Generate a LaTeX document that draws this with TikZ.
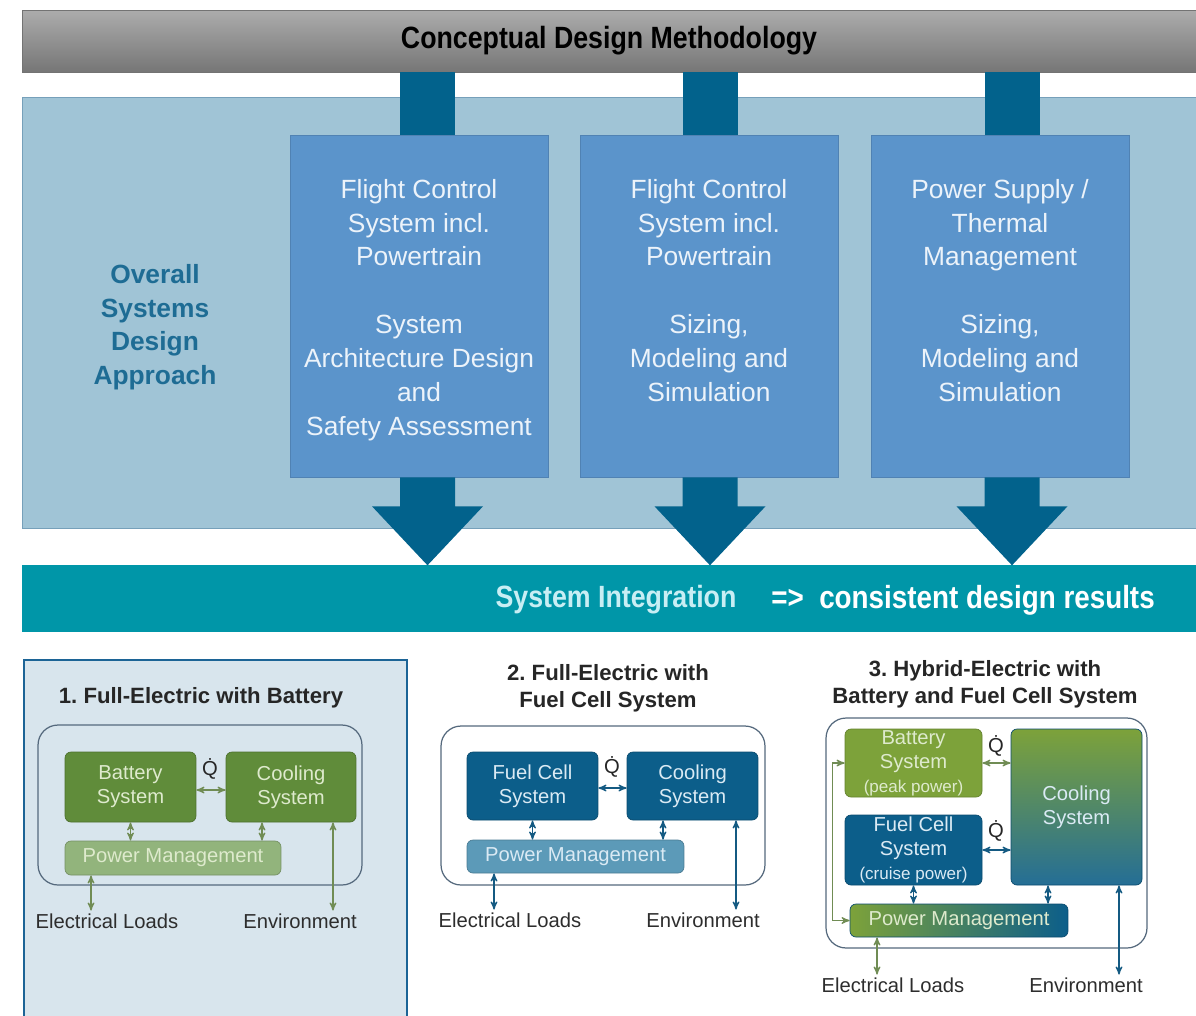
\documentclass[tikz,border=0pt]{standalone}
\usepackage{fontspec}
\setmainfont{Liberation Sans}
\newfontfamily\condsans[FakeStretch=0.87]{Liberation Sans}
\usetikzlibrary{arrows,positioning}
\frenchspacing

\definecolor{bartop}{RGB}{172,172,172}
\definecolor{barbot}{RGB}{118,118,118}
\definecolor{panelblue}{RGB}{160,196,214}
\definecolor{paneledge}{RGB}{118,160,186}
\definecolor{boxblue}{RGB}{91,148,203}
\definecolor{boxtxt}{RGB}{236,243,250}
\definecolor{linkblue}{RGB}{2,98,140}
\definecolor{teal}{RGB}{0,150,168}
\definecolor{tealtxt}{RGB}{200,238,244}
\definecolor{ovtext}{RGB}{30,108,148}
\definecolor{bgpanel}{RGB}{216,229,237}
\definecolor{bgedge}{RGB}{28,100,150}
\definecolor{darkgreen}{RGB}{96,140,58}
\definecolor{palegreen}{RGB}{146,180,124}
\definecolor{olive}{RGB}{125,162,58}
\definecolor{fcblue}{RGB}{12,94,138}
\definecolor{pmblue}{RGB}{92,154,184}
\definecolor{framecol}{RGB}{85,105,125}
\definecolor{greentxt}{RGB}{222,234,205}
\definecolor{bluetxt}{RGB}{218,234,244}
\definecolor{greenlink}{RGB}{112,140,84}
\definecolor{bluelink}{RGB}{20,90,130}
\definecolor{labeltxt}{RGB}{45,45,45}

\begin{document}
\begin{tikzpicture}[x=0.02cm, y=-0.02cm, >=stealth',
    headbar/.style={rectangle, top color=bartop, bottom color=barbot, draw=black!55,
        minimum width=23.48cm, minimum height=1.24cm,
        font=\condsans\fontsize{17.5}{20}\selectfont\bfseries, text=black},
    approach/.style={rectangle, fill=panelblue, draw=paneledge, minimum width=23.48cm, minimum height=8.62cm},
    overall/.style={align=center, text=ovtext, font=\fontsize{15}{19.1}\selectfont\bfseries},
    taskbox/.style={rectangle, fill=boxblue, draw=boxblue!88!black, minimum width=5.16cm, minimum height=6.84cm},
    tasktext/.style={align=center, text=boxtxt, inner sep=0pt, font=\fontsize{15}{19.3}\selectfont},
    link/.style={linkblue, line width=1.1cm},
    integbar/.style={rectangle, fill=teal, minimum width=23.48cm, minimum height=1.34cm},
    integ/.style={text=tealtxt, font=\condsans\fontsize{17.5}{20}\selectfont\bfseries},
    result/.style={text=white, font=\condsans\fontsize{18.2}{20}\selectfont\bfseries},
    casebg/.style={rectangle, fill=bgpanel, draw=bgedge, line width=1.1pt, minimum width=7.66cm, minimum height=7.4cm},
    casetitle/.style={align=center, text=black!85, font=\fontsize{12.6}{15.3}\selectfont\bfseries},
    frame/.style={rectangle, rounded corners=0.4cm, draw=framecol, line width=0.7pt},
    sub/.style={rectangle, rounded corners=0.12cm, align=center, inner sep=0pt, font=\fontsize{11.5}{13.6}\selectfont},
    green/.style={sub, fill=darkgreen, draw=darkgreen!80!black, text=greentxt},
    blue/.style={sub, fill=fcblue, draw=fcblue!80!black, text=bluetxt},
    heat/.style={font=\fontsize{11.5}{13}\selectfont, text=black!85},
    sink/.style={font=\fontsize{11.5}{13.6}\selectfont, text=labeltxt, inner sep=1.5pt},
    gl/.style={greenlink, line width=0.7pt},
    bl/.style={bluelink, line width=0.7pt}]

    \useasboundingbox (0,0) rectangle (1196,1015);

    % Methodology bar and approach panel
    \node [approach] (osda) at (609,312.5) {};
    \node [headbar]  (cdm)  at (609,41) {Conceptual Design Methodology};
    \node [overall]  (ovr)  at (155,327) {Overall\\Systems\\Design\\Approach};

    % Task boxes
    \node [taskbox] (fcs) at (419,306) {};
    \node [taskbox] (fcp) at (709,306) {};
    \node [taskbox] (pst) at (1000,306) {};
    \node [tasktext, below=0.88cm of fcs.north] (fcstext)
        {Flight Control\\System incl.\\Powertrain\\[19.3pt]System\\Architecture Design\\and\\Safety Assessment};
    \node [tasktext, below=0.88cm of fcp.north] (fcptext)
        {Flight Control\\System incl.\\Powertrain\\[19.3pt]Sizing,\\Modeling and\\Simulation};
    \node [tasktext, below=0.88cm of pst.north] (psttext)
        {Power Supply /\\Thermal\\Management\\[19.3pt]Sizing,\\Modeling and\\Simulation};

    % Integration bar
    \node [integbar] (sysint) at (609,598.5) {};
    \node [integ]  (si)  at (616,600) {System Integration};
    \node [result, right=0.45cm of si] (cdr) {=>\ \ consistent design results};

    % Links into the boxes and block arrows out of them
    \foreach \b/\dx in {fcs/0.17cm, fcp/0.02cm, pst/0.24cm} {
        \path ([xshift=\dx]\b.north) coordinate (top\b);
        \path ([xshift=\dx]\b.south) coordinate (bot\b);
        \draw [link] (top\b |- cdm.south) -- (top\b);
        \fill [linkblue] (bot\b) ++(-27.5,0) -- ++(0,29) -- ++(-28,0) -- ++(55.5,59)
            -- ++(55.5,-59) -- ++(-28,0) -- ++(0,-29) -- cycle;
    }

    % Case 1: battery
    \node [casebg] (case1) at (215.5,845) {};
    \node [casetitle] (t1) at (201,698) {1. Full-Electric with Battery};
    \node [frame, minimum width=6.48cm, minimum height=3.2cm] (f1) at (200,805) {};
    \node [green, minimum width=2.62cm, minimum height=1.4cm] (bat1)  at (130.5,787) {Battery\\System};
    \node [green, minimum width=2.6cm, minimum height=1.4cm]  (cool1) at (291,787) {Cooling\\System};
    \node [sub, fill=palegreen, draw=palegreen!80!black, text=greentxt,
           minimum width=4.32cm, minimum height=0.68cm] (pm1) at (173,858) {Power Management};
    \node [heat] (q1) at (210,769) {\.{Q}};
    \node [sink] (el1)  at (107,921) {Electrical Loads};
    \node [sink] (env1) at (300,921) {Environment};

    \path ([xshift=-0.58cm]cool1.south) coordinate (c1);
    \path ([xshift=-1.64cm]pm1.south) coordinate (p1);
    \path ([xshift=0.84cm]cool1.south) coordinate (e1);
    \draw [gl, <->] ([yshift=-0.06cm]bat1.east) -- ([yshift=-0.06cm]cool1.west);
    \draw [gl, <->] (bat1.south) -- (bat1.south |- pm1.north);
    \draw [gl, <->] (c1) -- (c1 |- pm1.north);
    \draw [gl, <->] (p1) -- (p1 |- el1.north);
    \draw [gl, <->] (e1) -- (e1 |- env1.north);

    % Case 2: fuel cell
    \node [casetitle] (t2) at (608,688.5) {2. Full-Electric with\\Fuel Cell System};
    \node [frame, minimum width=6.48cm, minimum height=3.18cm] (f2) at (603,805.5) {};
    \node [blue, minimum width=2.62cm, minimum height=1.36cm] (fc2)   at (532.5,786) {Fuel Cell\\System};
    \node [blue, minimum width=2.62cm, minimum height=1.36cm] (cool2) at (692.5,786) {Cooling\\System};
    \node [sub, fill=pmblue, draw=pmblue!80!black, text=bluetxt,
           minimum width=4.34cm, minimum height=0.66cm] (pm2) at (575.5,856.5) {Power Management};
    \node [heat] (q2) at (612,767) {\.{Q}};
    \node [sink] (el2)  at (510,920) {Electrical Loads};
    \node [sink] (env2) at (703,920) {Environment};

    \path ([xshift=-0.59cm]cool2.south) coordinate (c2);
    \path ([xshift=-1.63cm]pm2.south) coordinate (p2);
    \path ([xshift=0.87cm]cool2.south) coordinate (e2);
    \draw [bl, <->] ([yshift=-0.04cm]fc2.east) -- ([yshift=-0.04cm]cool2.west);
    \draw [bl, <->] (fc2.south) -- (fc2.south |- pm2.north);
    \draw [bl, <->] (c2) -- (c2 |- pm2.north);
    \draw [bl, <->] (p2) -- (p2 |- el2.north);
    \draw [bl, <->] (e2) -- (e2 |- env2.north);

    % Case 3: hybrid
    \node [casetitle] (t3) at (985,684.5) {3. Hybrid-Electric with\\Battery and Fuel Cell System};
    \node [frame, minimum width=6.42cm, minimum height=4.6cm] (f3) at (986.5,833) {};
    \node [sub, fill=olive, draw=olive!80!black, text=greentxt,
           minimum width=2.74cm, minimum height=1.36cm] (bat3) at (913.5,763)
        {Battery\\System\\{\fontsize{9.7}{11}\selectfont(peak power)}};
    \node [blue, minimum width=2.74cm, minimum height=1.4cm] (fc3) at (913.5,850)
        {Fuel Cell\\System\\{\fontsize{9.7}{11}\selectfont(cruise power)}};
    \node [sub, top color=olive, bottom color=fcblue!90!white, draw=fcblue!80!black, text=bluetxt,
           minimum width=2.62cm, minimum height=3.12cm] (cool3) at (1076.5,807) {Cooling\\System};
    \node [sub, left color=olive, right color=fcblue, draw=fcblue!80!black, text=greentxt,
           minimum width=4.36cm, minimum height=0.66cm] (pm3) at (959,920.5) {Power Management};
    \node [heat] (q3a) at (996,746) {\.{Q}};
    \node [heat] (q3b) at (996,831) {\.{Q}};
    \node [sink] (el3)  at (893,985) {Electrical Loads};
    \node [sink] (env3) at (1086,985) {Environment};

    \path ([xshift=-0.57cm]cool3.south) coordinate (c3);
    \path ([xshift=-1.64cm]pm3.south) coordinate (p3);
    \path ([xshift=0.85cm]cool3.south) coordinate (e3);
    \draw [gl, <->] (bat3.east) -- (bat3.east -| cool3.west);
    \draw [bl, <->] (fc3.east) -- (fc3.east -| cool3.west);
    \draw [gl, <->] (bat3.west) -- ++(-12,0) |- (pm3.west);
    \draw [bl, <->] (fc3.south) -- (fc3.south |- pm3.north);
    \draw [bl, <->] (c3) -- (c3 |- pm3.north);
    \draw [gl, <->] (p3) -- (p3 |- el3.north);
    \draw [bl, <->] (e3) -- (e3 |- env3.north);

\end{tikzpicture}
\end{document}
